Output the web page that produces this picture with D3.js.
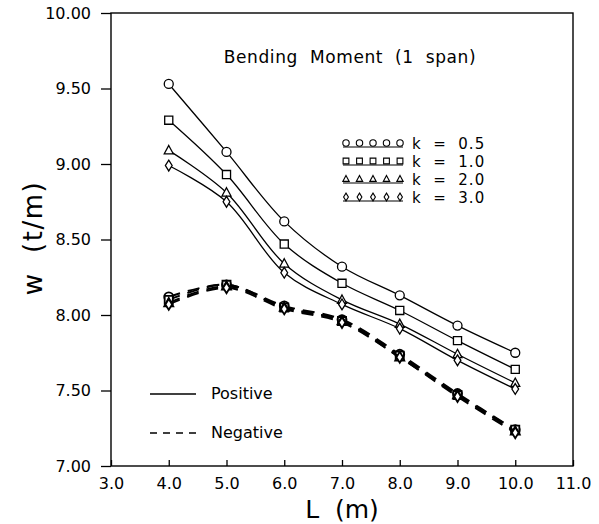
<!DOCTYPE html>
<html>
<head>
<meta charset="utf-8">
<script src="https://cdn.jsdelivr.net/npm/d3@7"></script>
<style>
    html, body { margin: 0; padding: 0; background: #fff; }
    svg { display: block; font-family: "DejaVu Sans", "Liberation Sans", sans-serif; }
</style>
</head>
<body>
<div id="chart"></div>
<script>
"use strict";

const spans = [4, 5, 6, 7, 8, 9, 10];
const kLabels = ["k\u00a0\u00a0=\u00a0\u00a00.5", "k\u00a0\u00a0=\u00a0\u00a01.0", "k\u00a0\u00a0=\u00a0\u00a02.0", "k\u00a0\u00a0=\u00a0\u00a03.0"];
const markerNames = ["circle", "square", "triangle", "diamond"];

// positive bending moment
const positiveK05 = [9.53, 9.08, 8.62, 8.32, 8.13, 7.93, 7.75];
const positiveK10 = [9.29, 8.93, 8.47, 8.21, 8.03, 7.83, 7.64];
const positiveK20 = [9.09, 8.81, 8.34, 8.10, 7.94, 7.74, 7.55];
const positiveK30 = [8.99, 8.75, 8.28, 8.07, 7.91, 7.70, 7.51];

// negative bending moment
const negativeK05 = [8.12, 8.20, 8.06, 7.97, 7.74, 7.48, 7.24];
const negativeK10 = [8.10, 8.20, 8.05, 7.96, 7.73, 7.47, 7.24];
const negativeK20 = [8.08, 8.19, 8.05, 7.96, 7.72, 7.47, 7.23];
const negativeK30 = [8.07, 8.18, 8.04, 7.95, 7.72, 7.46, 7.22];

const xTicks = [3, 4, 5, 6, 7, 8, 9, 10, 11];
const yTicks = [7.0, 7.5, 8.0, 8.5, 9.0, 9.5, 10.0];

(function () {
    const width = 599;
    const height = 524;
    const plot = { left: 111, right: 573, top: 13, bottom: 466 };

    const positive = [positiveK05, positiveK10, positiveK20, positiveK30];
    const negative = [negativeK05, negativeK10, negativeK20, negativeK30];

    const xScale = d3.scaleLinear().domain([3, 11]).range([plot.left, plot.right]);
    const yScale = d3.scaleLinear().domain([7, 10]).range([plot.bottom, plot.top]);

    const svg = d3.select("#chart").append("svg")
        .attr("width", width)
        .attr("height", height);

    // frame
    svg.append("rect")
        .attr("x", plot.left)
        .attr("y", plot.top)
        .attr("width", plot.right - plot.left)
        .attr("height", plot.bottom - plot.top)
        .attr("fill", "none")
        .attr("stroke", "#000")
        .attr("stroke-width", 1.4);

    const xAxis = d3.axisBottom(xScale)
        .tickValues(xTicks)
        .tickSizeInner(-6)
        .tickSizeOuter(0)
        .tickPadding(16)
        .tickFormat(d3.format(".1f"));

    const yAxis = d3.axisLeft(yScale)
        .tickValues(yTicks)
        .tickSizeInner(10)
        .tickSizeOuter(0)
        .tickPadding(10)
        .tickFormat(d3.format(".2f"));

    const gx = svg.append("g")
        .attr("transform", `translate(0,${plot.bottom})`)
        .call(xAxis);

    const gy = svg.append("g")
        .attr("transform", `translate(${plot.left},0)`)
        .call(yAxis);

    for (const g of [gx, gy]) {
        g.select(".domain").remove();
        g.selectAll("line").attr("stroke", "#000").attr("stroke-width", 1.3);
        g.selectAll("text")
            .attr("fill", "#000")
            .attr("font-size", 16)
            .attr("font-family", "\"DejaVu Sans\", sans-serif");
    }
    gx.selectAll("text").attr("dy", "0.45em");

    // axis titles
    svg.append("text")
        .attr("x", 342)
        .attr("y", 518)
        .attr("text-anchor", "middle")
        .attr("font-size", 25)
        .text("L\u00a0\u00a0(m)");

    svg.append("text")
        .attr("transform", "translate(42,238) rotate(-90)")
        .attr("text-anchor", "middle")
        .attr("font-size", 26)
        .attr("letter-spacing", 1.5)
        .text("w\u00a0\u00a0(t/m)");

    svg.append("text")
        .attr("x", 350)
        .attr("y", 63)
        .attr("text-anchor", "middle")
        .attr("font-size", 17)
        .attr("letter-spacing", 0.6)
        .text("Bending\u00a0\u00a0Moment\u00a0\u00a0(1\u00a0\u00a0span)");

    function markerPath(name, s) {
        const p = d3.path();
        if (name === "circle") {
            p.moveTo(s, 0);
            p.arc(0, 0, s, 0, 2 * Math.PI);
        } else if (name === "square") {
            p.rect(-s * 0.9, -s * 0.9, s * 1.8, s * 1.8);
        } else if (name === "triangle") {
            p.moveTo(0, -s * 1.1);
            p.lineTo(s, s * 0.75);
            p.lineTo(-s, s * 0.75);
            p.closePath();
        } else {
            p.moveTo(0, -s * 1.2);
            p.lineTo(s * 0.75, 0);
            p.lineTo(0, s * 1.2);
            p.lineTo(-s * 0.75, 0);
            p.closePath();
        }
        return p.toString();
    }

    const line = d3.line()
        .x((d, i) => xScale(spans[i]))
        .y(d => yScale(d))
        .curve(d3.curveCatmullRom.alpha(0.5));

    const series = svg.append("g").attr("class", "series");

    negative.forEach(function (values, k) {
        series.append("path")
            .attr("d", line(values))
            .attr("fill", "none")
            .attr("stroke", "#000")
            .attr("stroke-width", 2)
            .attr("stroke-dasharray", "12,8");

        series.append("g")
            .selectAll("path")
            .data(values)
            .join("path")
            .attr("transform", (d, i) => `translate(${xScale(spans[i])},${yScale(d)})`)
            .attr("d", markerPath(markerNames[k], 4.5))
            .attr("fill", "#fff")
            .attr("stroke", "#000")
            .attr("stroke-width", 1.8);
    });

    positive.forEach(function (values, k) {
        series.append("path")
            .attr("d", line(values))
            .attr("fill", "none")
            .attr("stroke", "#000")
            .attr("stroke-width", 1.3);

        series.append("g")
            .selectAll("path")
            .data(values)
            .join("path")
            .attr("transform", (d, i) => `translate(${xScale(spans[i])},${yScale(d)})`)
            .attr("d", markerPath(markerNames[k], 4.5))
            .attr("fill", "#fff")
            .attr("stroke", "#000")
            .attr("stroke-width", 1.3);
    });

    // k legend
    const legend = svg.append("g").attr("transform", "translate(343,143)");
    kLabels.forEach(function (label, k) {
        const row = legend.append("g").attr("transform", `translate(0,${k * 18})`);
        row.append("line")
            .attr("x1", 0)
            .attr("x2", 60)
            .attr("y1", 4)
            .attr("y2", 4)
            .attr("stroke", "#000")
            .attr("stroke-width", 1.2);
        row.selectAll("path")
            .data(d3.range(5))
            .join("path")
            .attr("transform", i => `translate(${3 + i * 13.5},0)`)
            .attr("d", markerPath(markerNames[k], 3.2))
            .attr("fill", "#fff")
            .attr("stroke", "#000")
            .attr("stroke-width", 1.1);
        row.append("text")
            .attr("x", 69)
            .attr("y", 6)
            .attr("font-size", 15)
            .attr("letter-spacing", 1)
            .text(label);
    });

    // line style legend
    const styles = svg.append("g").attr("transform", "translate(150,394)");
    styles.append("line")
        .attr("x1", 0).attr("x2", 46)
        .attr("y1", 0).attr("y2", 0)
        .attr("stroke", "#000")
        .attr("stroke-width", 1.3);
    styles.append("text")
        .attr("x", 61).attr("y", 5)
        .attr("font-size", 16)
        .text("Positive");
    styles.append("line")
        .attr("x1", 0).attr("x2", 46)
        .attr("y1", 39).attr("y2", 39)
        .attr("stroke", "#000")
        .attr("stroke-width", 1.3)
        .attr("stroke-dasharray", "7,6");
    styles.append("text")
        .attr("x", 61).attr("y", 44)
        .attr("font-size", 16)
        .text("Negative");
}());
</script>
</body>
</html>
